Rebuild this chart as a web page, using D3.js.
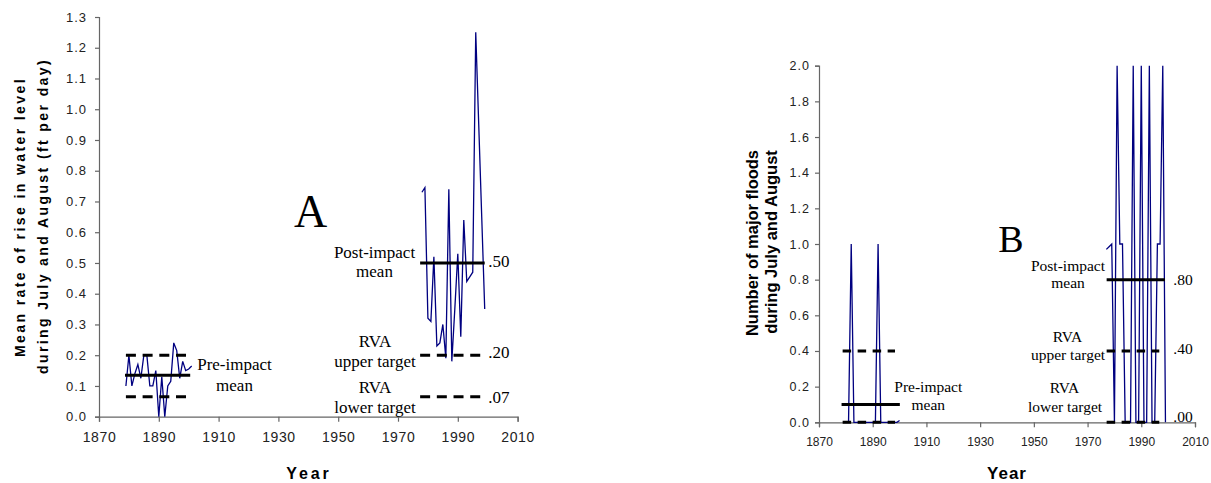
<!DOCTYPE html>
<html><head><meta charset="utf-8">
<script src="https://cdn.jsdelivr.net/npm/d3@7"></script>
<style>
html,body{margin:0;padding:0;background:#fff;}
svg{display:block;}
</style></head>
<body>
<svg id="chart" width="1211" height="483"></svg>
<script>
// ---------------- DATA ----------------
const xTicks = [1870, 1890, 1910, 1930, 1950, 1970, 1990, 2010];
const yTicksA = [0, 0.1, 0.2, 0.3, 0.4, 0.5, 0.6, 0.7, 0.8, 0.9, 1.0, 1.1, 1.2, 1.3];
const yTicksB = [0, 0.2, 0.4, 0.6, 0.8, 1.0, 1.2, 1.4, 1.6, 1.8, 2.0];

// Chart A: mean rate of rise (ft/day)
const preYearsA  = [1879,1880,1881,1882,1883,1884,1885,1886,1887,1888,1889,1890,1891,1892,1893,1894,1895,1896,1897,1898,1899,1900,1901];
const preValuesA = [0.10,0.20,0.10,0.14,0.17,0.125,0.20,0.20,0.10,0.10,0.15,0.00,0.13,0.00,0.10,0.115,0.24,0.215,0.125,0.18,0.15,0.155,0.165];
const postYearsA  = [1978,1979,1980,1981,1982,1983,1984,1985,1986,1987,1988,1989,1990,1991,1992,1993,1994,1995,1996,1997,1998,1999];
const postValuesA = [0.73,0.745,0.32,0.31,0.52,0.23,0.24,0.30,0.19,0.74,0.18,0.35,0.53,0.26,0.64,0.44,0.455,0.47,1.25,0.95,0.65,0.35];

// Chart B: number of major floods
const preYearsB  = [1879,1880,1881,1882,1883,1884,1885,1886,1887,1888,1889,1890,1891,1892,1893,1894,1895,1896,1897,1898,1899,1900];
const preValuesB = [0,0,0,1,0,0,0,0,0,0,0,0,0,1,0,0,0,0,0,0,0,0.01];
const postYearsB  = [1977,1978,1979,1980,1981,1982,1983,1984,1985,1986,1987,1988,1989,1990,1991,1992,1993,1994,1995,1996,1997,1998,1999];
const postValuesB = [0.97,0.985,1.0,0,2,1,1,0,0,0,2,0,0,2,0,0,2,0,0,1,1,2,0];

// reference lines: [value, startYear, endYear]
const refMeanA  = [[0.135, 1878.7, 1900.5], [0.50, 1977.4, 1999.0]];
const refDashA  = [[0.20, 1879, 1899.3], [0.065, 1879, 1899.3], [0.20, 1977.4, 1997.9], [0.065, 1977.4, 1997.9]];
const refMeanB  = [[0.10, 1878.4, 1900.1], [0.80, 1977.1, 1998.8]];
const refDashB  = [[0.40, 1878.8, 1898.3], [0.0, 1878.8, 1898.3], [0.40, 1977.1, 1996.7], [0.0, 1977.1, 1996.7]];

const valueLabelsA = [".50", ".20", ".07"];
const valueLabelsB = [".80", ".40", ".00"];

// ---------------- DRAW ----------------
const svg = d3.select("#chart");
const SERIES = "#000080";

function drawPanel(cfg) {
  const g = svg.append("g");
  const x = d3.scaleLinear().domain([1870, 2010]).range(cfg.xRange);
  const y = d3.scaleLinear().domain(cfg.yDomain).range(cfg.yRange);

  // axes
  const ya = g.append("g").attr("transform", `translate(${cfg.xRange[0]},0)`)
    .call(d3.axisLeft(y).tickValues(cfg.yTicks).tickFormat(d3.format(".1f")).tickSize(4).tickPadding(cfg.yPad));
  const xa = g.append("g").attr("transform", `translate(0,${cfg.yRange[0]})`)
    .call(d3.axisBottom(x).tickValues(xTicks).tickFormat(d => String(d)).tickSize(5).tickPadding(10));
  [ya, xa].forEach(a => {
    a.select(".domain").attr("stroke", "#666").attr("stroke-width", 1.2);
    a.selectAll(".tick line").attr("stroke", "#666").attr("stroke-width", 1.2);
    a.selectAll("text").attr("font-family", "Liberation Sans, Arial, sans-serif").attr("fill", "#222");
  });
  ya.selectAll("text").attr("font-size", cfg.yFont).style("letter-spacing", cfg.yLS + "px");
  xa.selectAll("text").attr("font-size", cfg.xFont).style("letter-spacing", cfg.xLS + "px");

  // series
  const line = d3.line().x(d => x(d[0])).y(d => y(d[1]));
  cfg.series.forEach(s => {
    g.append("path").datum(d3.zip(s[0], s[1])).attr("d", line)
      .attr("fill", "none").attr("stroke", SERIES).attr("stroke-width", 1.3).attr("stroke-linejoin", "miter");
  });

  // reference lines
  cfg.means.forEach(m => {
    g.append("line").attr("x1", x(m[1])).attr("x2", x(m[2])).attr("y1", y(m[0])).attr("y2", y(m[0]))
      .attr("stroke", "#000").attr("stroke-width", 3);
  });
  cfg.dashes.forEach(m => {
    g.append("line").attr("x1", x(m[1])).attr("x2", x(m[2])).attr("y1", y(m[0])).attr("y2", y(m[0]))
      .attr("stroke", "#000").attr("stroke-width", 3).attr("stroke-dasharray", cfg.dash);
  });
  return {g, x, y};
}

function txt(g, str, xx, yy, opts) {
  const t = g.append("text").attr("x", xx).attr("y", yy).text(str)
    .attr("font-family", opts.family || "Liberation Serif, Times New Roman, serif")
    .attr("font-size", opts.size).attr("fill", "#000")
    .attr("text-anchor", opts.anchor || "middle");
  if (opts.weight) t.attr("font-weight", opts.weight);
  if (opts.ls) t.style("letter-spacing", opts.ls + "px");
  if (opts.rotate) t.attr("transform", `rotate(-90,${xx},${yy})`);
  return t;
}

// ---- Panel A ----
const A = drawPanel({
  xRange: [99, 517.6], yDomain: [0, 1.3], yRange: [416.7, 17],
  yTicks: yTicksA, yPad: 8, yFont: 13, yLS: 1, xFont: 14, xLS: 0.6,
  series: [[preYearsA, preValuesA], [postYearsA, postValuesA]],
  means: refMeanA, dashes: refDashA, dash: "10,6.7"
});
txt(A.g, "Mean rate of rise in water level", 25, 217, {family: "Liberation Sans, Arial, sans-serif", size: 14, weight: "bold", ls: 2.4, rotate: true});
txt(A.g, "during July and August (ft per day)", 47.5, 216, {family: "Liberation Sans, Arial, sans-serif", size: 14, weight: "bold", ls: 2.4, rotate: true});
txt(A.g, "Year", 309, 479, {family: "Liberation Sans, Arial, sans-serif", size: 16, weight: "bold", ls: 2.9});
txt(A.g, "A", 294, 226.7, {size: 46, anchor: "start"});
txt(A.g, "Pre-impact", 234.5, 370, {size: 17});
txt(A.g, "mean", 234.5, 390.5, {size: 17});
txt(A.g, "Post-impact", 374.5, 258.3, {size: 17});
txt(A.g, "mean", 374.5, 277, {size: 17});
txt(A.g, "RVA", 375, 347.3, {size: 17});
txt(A.g, "upper target", 375, 367, {size: 17});
txt(A.g, "RVA", 375, 393.3, {size: 17});
txt(A.g, "lower target", 375, 412.7, {size: 17});
[[valueLabelsA[0], 266.7], [valueLabelsA[1], 358.3], [valueLabelsA[2], 403.3]].forEach(v =>
  txt(A.g, v[0], 488.3, v[1], {size: 17, anchor: "start"}));

// ---- Panel B ----
const B = drawPanel({
  xRange: [819, 1195], yDomain: [0, 2], yRange: [422.3, 65.7],
  yTicks: yTicksB, yPad: 5, yFont: 12.5, yLS: 1, xFont: 12, xLS: 0,
  series: [[preYearsB, preValuesB], [postYearsB, postValuesB]],
  means: refMeanB, dashes: refDashB, dash: "8.5,6.5"
});
txt(B.g, "Number of major floods", 758, 243, {family: "Liberation Sans, Arial, sans-serif", size: 16.5, weight: "bold", rotate: true});
txt(B.g, "during July and August", 777, 242, {family: "Liberation Sans, Arial, sans-serif", size: 16.5, weight: "bold", rotate: true});
txt(B.g, "Year", 1007, 479, {family: "Liberation Sans, Arial, sans-serif", size: 17, weight: "bold", ls: 1});
txt(B.g, "B", 998.3, 251.7, {size: 38, anchor: "start"});
txt(B.g, "Pre-impact", 928.3, 391.7, {size: 15.5});
txt(B.g, "mean", 928.3, 410, {size: 15.5});
txt(B.g, "Post-impact", 1068, 270.7, {size: 15.5});
txt(B.g, "mean", 1068, 288.3, {size: 15.5});
txt(B.g, "RVA", 1067.5, 342.3, {size: 15.5});
txt(B.g, "upper target", 1068, 359.5, {size: 15.5});
txt(B.g, "RVA", 1064.5, 393.3, {size: 15.5});
txt(B.g, "lower target", 1065, 411.7, {size: 15.5});
[[valueLabelsB[0], 285], [valueLabelsB[1], 353.5], [valueLabelsB[2], 422.3]].forEach(v =>
  txt(B.g, v[0], 1173.3, v[1], {size: 15.5, anchor: "start"}));
</script>
</body></html>
